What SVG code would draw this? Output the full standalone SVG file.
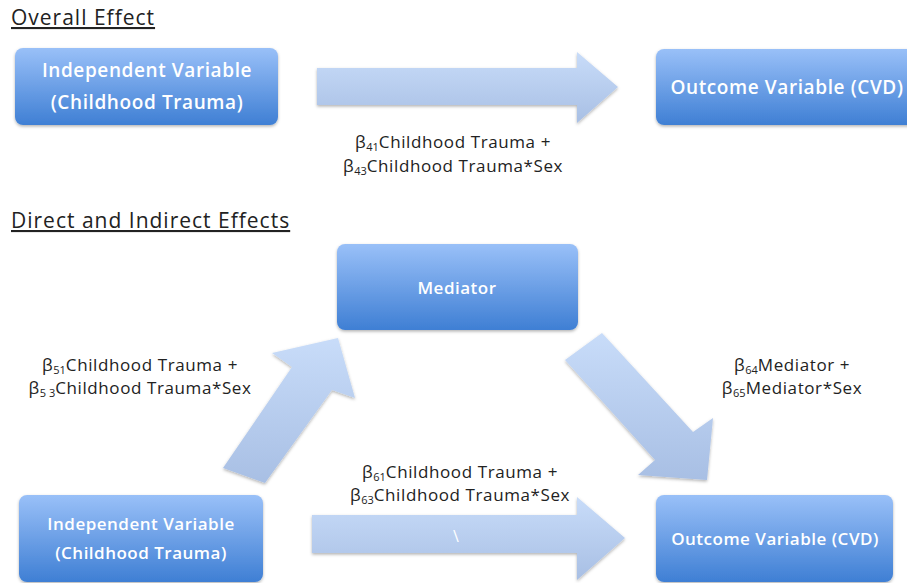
<svg xmlns="http://www.w3.org/2000/svg" width="907" height="583" viewBox="0 0 907 583">
<defs>
<linearGradient id="boxg" x1="0" y1="0" x2="0" y2="1">
<stop offset="0" stop-color="#99c0f8"/>
<stop offset="1" stop-color="#3f7fd4"/>
</linearGradient>
<linearGradient id="arrg" x1="0" y1="0" x2="0" y2="1">
<stop offset="0" stop-color="#c8dcf9"/>
<stop offset="1" stop-color="#a8bfe4"/>
</linearGradient>
<filter id="sh" x="-10%" y="-10%" width="120%" height="130%">
<feDropShadow dx="0" dy="1.5" stdDeviation="1.5" flood-color="#000" flood-opacity="0.3"/>
</filter>
</defs>
<style>
.box{fill:url(#boxg);filter:url(#sh)}
.arr{fill:url(#arrg);filter:url(#sh)}
.bt{font-family:"Open Sans","Liberation Sans",sans-serif;fill:#fff;font-weight:600;text-anchor:middle;letter-spacing:0.5px}
.lab{font-family:"Open Sans","Liberation Sans",sans-serif;fill:#222;font-size:17px;text-anchor:middle;letter-spacing:0.6px}
.hd{font-family:"Open Sans","Liberation Sans",sans-serif;fill:#222;font-size:21px;text-decoration:underline;letter-spacing:1px}
.sub{font-size:11px;letter-spacing:0}
</style>
<rect width="907" height="583" fill="#fff"/>
<text class="hd" x="11" y="25">Overall Effect</text>
<text class="hd" x="11" y="228">Direct and Indirect Effects</text>
<g id="connectors">
<polygon class="arr" points="317,68 577,68 577,52 618,87 577,123 577,105 317,105"/>
<polygon class="arr" points="312,515 577,515 577,497 625,538 577,580 577,553 312,553"/>
<polygon class="arr" points="223,468 292,367 272,353 338,338 355,398 332,390 265,483"/>
<polygon class="arr" points="565,360 602,333 693,432 713,418 707,480 638,475 655,460"/>
<text x="456" y="542" font-family="Open Sans, Liberation Sans, sans-serif" font-size="16" fill="#fff" text-anchor="middle">\</text>
</g>
<g id="iv1"><rect class="box" x="15" y="48" width="263" height="77" rx="8"/>
<text class="bt" x="147" y="77" font-size="19" style="letter-spacing:0.6px">Independent Variable</text>
<text class="bt" x="147" y="109" font-size="19" style="letter-spacing:0.6px">(Childhood Trauma)</text></g>
<g id="ov1"><rect class="box" x="656" y="49" width="262" height="76" rx="8"/>
<text class="bt" x="787" y="94" font-size="19" style="letter-spacing:0.6px">Outcome Variable (CVD)</text></g>
<g id="med"><rect class="box" x="337" y="244" width="241" height="86" rx="8"/>
<text class="bt" x="457" y="294" font-size="17">Mediator</text></g>
<g id="iv2"><rect class="box" x="19" y="495" width="244" height="87" rx="8"/>
<text class="bt" x="141" y="530" font-size="17">Independent Variable</text>
<text class="bt" x="141" y="559" font-size="17">(Childhood Trauma)</text></g>
<g id="ov2"><rect class="box" x="656" y="495" width="237" height="87" rx="8"/>
<text class="bt" x="775" y="545" font-size="17">Outcome Variable (CVD)</text></g>
<g id="labels">
<text class="lab" x="453" y="148">β<tspan class="sub" dy="3">41</tspan><tspan dy="-3">Childhood Trauma +</tspan></text>
<text class="lab" x="453" y="172">β<tspan class="sub" dy="3">43</tspan><tspan dy="-3">Childhood Trauma*Sex</tspan></text>
<text class="lab" x="140" y="371">β<tspan class="sub" dy="3">51</tspan><tspan dy="-3">Childhood Trauma +</tspan></text>
<text class="lab" x="140" y="394">β<tspan class="sub" dy="3">5 3</tspan><tspan dy="-3">Childhood Trauma*Sex</tspan></text>
<text class="lab" x="792" y="371">β<tspan class="sub" dy="3">64</tspan><tspan dy="-3">Mediator +</tspan></text>
<text class="lab" x="792" y="394">β<tspan class="sub" dy="3">65</tspan><tspan dy="-3">Mediator*Sex</tspan></text>
<text class="lab" x="460" y="478">β<tspan class="sub" dy="3">61</tspan><tspan dy="-3">Childhood Trauma +</tspan></text>
<text class="lab" x="460" y="501">β<tspan class="sub" dy="3">63</tspan><tspan dy="-3">Childhood Trauma*Sex</tspan></text>
</g>
</svg>
